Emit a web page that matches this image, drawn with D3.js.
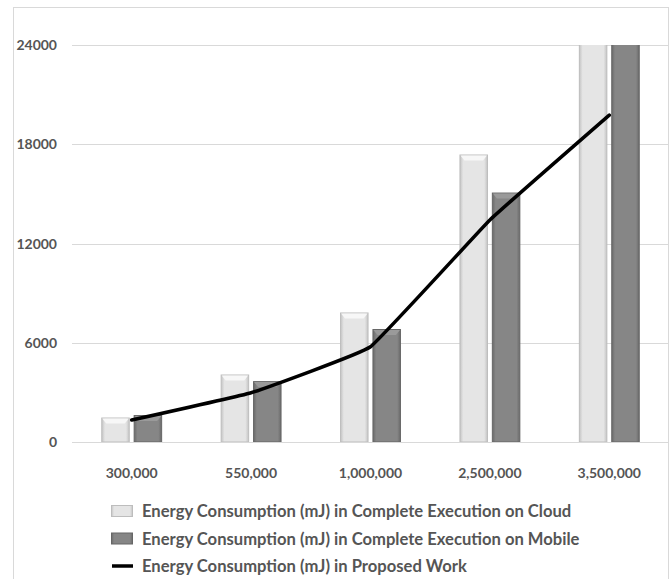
<!DOCTYPE html>
<html>
<head>
<meta charset="utf-8">
<script src="https://cdn.jsdelivr.net/npm/d3@7"></script>
<style>
  body { margin: 0; background: #fff; }
  text { font-family: Lato, "Open Sans", sans-serif; fill: #555; }
</style>
</head>
<body>
<div id="canvas"></div>
<script>
const categories = ["300,000", "550,000", "1,000,000", "2,500,000", "3,500,000"];
const cloud = [1450, 4050, 7800, 17350, 27000];
const mobile = [1600, 3650, 6800, 15050, 26000];
const proposed = [1330, 2980, 5760, 13420, 19760];
const yTicks = [0, 6000, 12000, 18000, 24000];
const seriesNames = [
    "Energy Consumption (mJ) in Complete Execution on Cloud",
    "Energy Consumption (mJ) in Complete Execution on Mobile",
    "Energy Consumption (mJ) in Proposed Work"
];

const width = 672;
const height = 579;
const margin = { top: 45, left: 72, bottom: 137, right: 3 };

const canvas = d3.select("#canvas");
const svg = canvas.append("svg")
    .attr("width", width)
    .attr("height", height);

const defs = svg.append("defs");

// horizontal shading for the bevelled bars
function barGradient(id, edge, mid) {
    const gr = defs.append("linearGradient").attr("id", id)
        .attr("x1", "0%").attr("x2", "100%").attr("y1", "0%").attr("y2", "0%");
    gr.append("stop").attr("offset", "0%").attr("stop-color", edge);
    gr.append("stop").attr("offset", "12%").attr("stop-color", mid);
    gr.append("stop").attr("offset", "88%").attr("stop-color", mid);
    gr.append("stop").attr("offset", "100%").attr("stop-color", edge);
}
barGradient("gCloud", "#c4c4c4", "#e5e5e5");
barGradient("gMobile", "#6a6a6a", "#868686");

defs.append("clipPath").attr("id", "plotClip")
    .append("rect")
    .attr("x", margin.left).attr("y", margin.top)
    .attr("width", width - margin.left - margin.right)
    .attr("height", height - margin.top - margin.bottom);

// chart frame
svg.append("rect")
    .attr("x", 13.5).attr("y", 7.5)
    .attr("width", 655).attr("height", 600)
    .attr("fill", "none")
    .attr("stroke", "#d9d9d9");

const x = d3.scaleBand()
    .domain(categories)
    .range([margin.left, width - margin.right])
    .paddingInner(0.49)
    .paddingOuter(0.245);

const x1 = d3.scaleBand()
    .domain(["cloud", "mobile"])
    .range([0, x.bandwidth()])
    .paddingInner(0.12);

const y = d3.scaleLinear()
    .domain([0, 24000])
    .range([height - margin.bottom, margin.top]);

// grid + y labels
svg.append("g").selectAll("line").data(yTicks).enter().append("line")
    .attr("x1", margin.left).attr("x2", width - margin.right)
    .attr("y1", d => Math.round(y(d)) + 0.5).attr("y2", d => Math.round(y(d)) + 0.5)
    .attr("stroke", "#d9d9d9").attr("stroke-width", 1.2);

svg.append("g").selectAll("text").data(yTicks).enter().append("text")
    .attr("x", 57).attr("y", d => y(d) + 5)
    .attr("text-anchor", "end")
    .style("font-size", "14px")
    .style("font-weight", "bold")
    .text(d => d);

// bars
const barData = [];
categories.forEach((c, i) => {
    barData.push({ cat: c, key: "cloud", value: cloud[i] });
    barData.push({ cat: c, key: "mobile", value: mobile[i] });
});

const barsG = svg.append("g").attr("clip-path", "url(#plotClip)");
const bar = barsG.selectAll("g").data(barData).enter().append("g");

bar.append("rect")
    .attr("x", d => x(d.cat) + x1(d.key) + 0.5)
    .attr("y", d => y(d.value))
    .attr("width", x1.bandwidth() - 1)
    .attr("height", d => y(0) - y(d.value))
    .attr("fill", d => d.key === "cloud" ? "url(#gCloud)" : "url(#gMobile)")
    .attr("stroke", d => d.key === "cloud" ? "#bdbdbd" : "#666")
    .attr("stroke-width", 1);

// top bevel
bar.append("path")
    .attr("d", d => {
        const x0 = x(d.cat) + x1(d.key) + 1, w = x1.bandwidth() - 2, t = y(d.value) + 0.5;
        return `M${x0},${t}L${x0 + w},${t}L${x0 + w - 4},${t + 5}L${x0 + 4},${t + 5}Z`;
    })
    .attr("fill", d => d.key === "cloud" ? "#f7f7f7" : "#9a9a9a");

// proposed line
const line = d3.line()
    .x((d, i) => x(categories[i]) + x.bandwidth() / 2)
    .y(d => y(d))
    .curve(d3.curveCardinal.tension(0.75));

svg.append("path")
    .datum(proposed)
    .attr("d", line)
    .attr("fill", "none")
    .attr("stroke", "#000")
    .attr("stroke-width", 3.5)
    .attr("stroke-linecap", "round");

// x labels
svg.append("g").selectAll("text").data(categories).enter().append("text")
    .attr("x", d => x(d) + x.bandwidth() / 2)
    .attr("y", 478)
    .attr("text-anchor", "middle")
    .style("font-size", "14px")
    .style("font-weight", "bold")
    .text(d => d);

// legend
const legend = svg.append("g").selectAll("g").data(seriesNames).enter().append("g")
    .attr("transform", (d, i) => `translate(111, ${511 + i * 27.5})`);

legend.filter((d, i) => i < 2).append("rect")
    .attr("x", 0.5).attr("y", -5.5)
    .attr("width", 21).attr("height", 11)
    .attr("fill", (d, i) => i === 0 ? "url(#gCloud)" : "url(#gMobile)")
    .attr("stroke", (d, i) => i === 0 ? "#bdbdbd" : "#666");

legend.filter((d, i) => i === 2).append("line")
    .attr("x1", 1).attr("x2", 22).attr("y1", 0).attr("y2", 0)
    .attr("stroke", "#000").attr("stroke-width", 3.5);

legend.append("text")
    .attr("x", 31).attr("y", 6)
    .style("font-size", "16.6px")
    .style("font-weight", "bold")
    .text(d => d);
</script>
</body>
</html>
